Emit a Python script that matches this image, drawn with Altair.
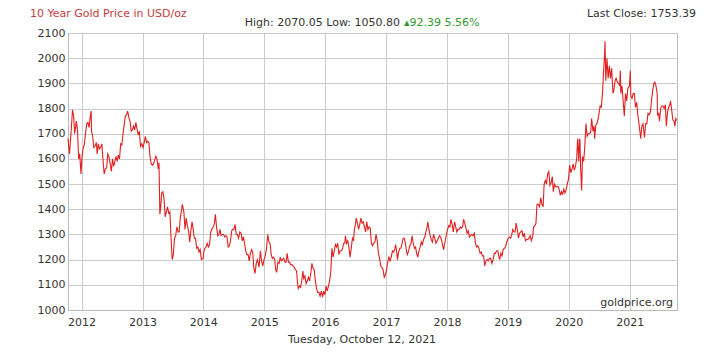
import altair as alt
import pandas as pd

# ---- data (~weekly points) ----
y2011 = [("10-12",1680),("10-21",1620),("11-01",1720),("11-08",1795),("11-15",1770),("11-21",1700),
         ("12-01",1750),("12-08",1715),("12-15",1600),("12-21",1620),("12-29",1540)]
y2012 = [("01-03",1600),("01-10",1640),("01-17",1655),("01-25",1700),("02-01",1740),("02-08",1745),
         ("02-15",1725),("02-22",1765),("02-28",1790),("03-01",1710),("03-08",1690),("03-15",1645),
         ("03-22",1650),("03-30",1665),("04-04",1620),("04-11",1660),("04-18",1640),("04-25",1645),
         ("05-02",1660),("05-09",1595),("05-16",1540),("05-23",1560),("05-31",1565),("06-06",1620),
         ("06-13",1610),("06-21",1580),("06-28",1550),("07-05",1600),("07-12",1570),("07-19",1590),
         ("07-26",1610),("08-02",1590),("08-09",1615),("08-16",1600),("08-23",1660),("08-30",1655),
         ("09-06",1700),("09-13",1735),("09-20",1770),("09-27",1775),("10-04",1790),("10-11",1765),
         ("10-18",1750),("10-25",1710),("11-01",1715),("11-08",1730),("11-15",1715),("11-22",1745),
         ("11-29",1720),("12-06",1695),("12-13",1710),("12-20",1650),("12-28",1660)]
y2013 = [("01-04",1645),("01-11",1665),("01-18",1690),("01-25",1665),("02-01",1670),("02-08",1665),
         ("02-15",1610),("02-22",1580),("03-01",1575),("03-08",1580),("03-15",1595),("03-22",1610),
         ("03-29",1600),("04-05",1560),("04-10",1585),("04-15",1380),("04-19",1400),("04-26",1465),
         ("05-03",1470),("05-10",1440),("05-17",1370),("05-24",1390),("05-31",1410),("06-07",1385),
         ("06-14",1390),("06-21",1290),("06-28",1200),("07-05",1220),("07-12",1285),("07-19",1295),
         ("07-26",1330),("08-02",1310),("08-09",1310),("08-16",1370),("08-23",1395),("08-28",1420),
         ("09-06",1390),("09-13",1320),("09-20",1365),("09-27",1335),("10-04",1315),("10-11",1270),
         ("10-18",1315),("10-25",1350),("11-01",1320),("11-08",1285),("11-15",1285),("11-22",1245),
         ("11-29",1250),("12-06",1230),("12-13",1240),("12-20",1200),("12-31",1205)]
y2014 = [("01-03",1230),("01-10",1245),("01-17",1250),("01-24",1265),("01-31",1250),("02-07",1260),
         ("02-14",1310),("02-21",1320),("02-28",1330),("03-07",1340),("03-14",1380),("03-21",1330),
         ("03-28",1295),("04-04",1300),("04-11",1320),("04-17",1295),("04-25",1300),("05-02",1300),
         ("05-09",1290),("05-16",1295),("05-23",1290),("05-30",1250),("06-06",1255),("06-13",1275),
         ("06-20",1315),("06-27",1320),("07-03",1320),("07-10",1340),("07-17",1300),("07-24",1300),
         ("07-31",1285),("08-08",1310),("08-15",1305),("08-22",1275),("08-29",1290),("09-05",1265),
         ("09-12",1235),("09-19",1220),("09-26",1220),("10-03",1195),("10-10",1225),("10-17",1240),
         ("10-24",1230),("10-31",1165),("11-07",1145),("11-14",1185),("11-21",1200),("11-28",1180),
         ("12-01",1170),("12-09",1235),("12-16",1195),("12-23",1175),("12-31",1200)]
y2015 = [("01-07",1215),("01-14",1240),("01-22",1300),("01-29",1270),("02-05",1265),("02-12",1220),
         ("02-19",1205),("02-26",1210),("03-05",1200),("03-11",1160),("03-17",1150),("03-24",1190),
         ("03-31",1185),("04-07",1210),("04-14",1195),("04-21",1200),("04-28",1205),("05-05",1190),
         ("05-12",1190),("05-19",1225),("05-26",1190),("06-02",1190),("06-09",1180),("06-16",1180),
         ("06-23",1175),("06-30",1170),("07-07",1160),("07-14",1155),("07-20",1105),("07-24",1085),
         ("07-31",1095),("08-07",1090),("08-14",1115),("08-21",1155),("08-26",1125),("09-02",1135),
         ("09-09",1105),("09-16",1115),("09-23",1130),("09-30",1115),("10-07",1145),("10-14",1185),
         ("10-21",1165),("10-28",1160),("11-04",1115),("11-11",1085),("11-18",1070),("11-25",1070),
         ("12-02",1055),("12-09",1075),("12-17",1051),("12-23",1075),("12-31",1060)]
y2016 = [("01-07",1095),("01-14",1075),("01-21",1095),("01-28",1115),("02-04",1150),("02-11",1245),
         ("02-18",1210),("02-25",1235),("03-03",1260),("03-10",1250),("03-17",1265),("03-24",1220),
         ("03-31",1235),("04-07",1235),("04-14",1240),("04-21",1265),("04-28",1265),("05-02",1295),
         ("05-09",1265),("05-16",1275),("05-23",1250),("05-30",1210),("06-06",1245),("06-13",1285),
         ("06-20",1275),("06-24",1315),("07-01",1340),("07-06",1365),("07-13",1345),("07-20",1320),
         ("07-27",1340),("08-03",1365),("08-10",1345),("08-17",1350),("08-24",1330),("08-31",1310),
         ("09-07",1350),("09-14",1320),("09-21",1330),("09-28",1325),("10-05",1265),("10-12",1255),
         ("10-19",1265),("10-26",1270),("11-02",1300),("11-09",1275),("11-16",1225),("11-23",1205),
         ("11-30",1175),("12-07",1170),("12-14",1160),("12-21",1130),("12-28",1140)]
y2017 = [("01-04",1160),("01-11",1190),("01-18",1210),("01-25",1195),("02-01",1210),("02-08",1235),
         ("02-15",1230),("02-22",1240),("02-27",1260),("03-06",1230),("03-10",1200),("03-17",1230),
         ("03-24",1245),("03-31",1245),("04-07",1265),("04-13",1285),("04-20",1285),("04-27",1265),
         ("05-04",1230),("05-09",1220),("05-16",1235),("05-23",1255),("05-31",1265),("06-06",1295),
         ("06-13",1265),("06-20",1245),("06-27",1250),("07-03",1225),("07-10",1210),("07-17",1235),
         ("07-24",1250),("07-31",1270),("08-07",1260),("08-14",1280),("08-21",1290),("08-28",1310),
         ("09-04",1330),("09-08",1350),("09-15",1320),("09-22",1295),("09-29",1280),("10-06",1270),
         ("10-13",1300),("10-20",1285),("10-27",1265),("11-03",1275),("11-10",1285),("11-17",1295),
         ("11-24",1290),("12-01",1275),("12-08",1250),("12-12",1240),("12-19",1265),("12-29",1300)]
y2018 = [("01-05",1320),("01-12",1335),("01-19",1330),("01-25",1360),("02-01",1340),("02-08",1310),
         ("02-16",1350),("02-23",1330),("03-01",1310),("03-08",1320),("03-15",1320),("03-22",1330),
         ("03-29",1325),("04-05",1330),("04-11",1360),("04-18",1345),("04-25",1325),("05-02",1305),
         ("05-09",1315),("05-16",1290),("05-23",1295),("05-30",1300),("06-06",1295),("06-14",1305),
         ("06-21",1265),("06-28",1250),("07-05",1255),("07-12",1245),("07-19",1225),("07-26",1230),
         ("08-02",1215),("08-09",1215),("08-16",1175),("08-23",1195),("08-30",1200),("09-06",1195),
         ("09-13",1205),("09-20",1205),("09-28",1185),("10-05",1200),("10-12",1225),("10-19",1225),
         ("10-26",1235),("11-02",1235),("11-09",1210),("11-13",1200),("11-20",1225),("11-27",1215),
         ("12-04",1240),("12-11",1245),("12-18",1250),("12-24",1265),("12-31",1280)]
y2019 = [("01-04",1285),("01-11",1290),("01-18",1285),("01-25",1300),("01-31",1320),("02-07",1310),
         ("02-14",1310),("02-20",1345),("02-27",1320),("03-06",1285),("03-13",1305),("03-20",1310),
         ("03-27",1315),("04-03",1290),("04-10",1305),("04-17",1275),("04-24",1280),("05-01",1280),
         ("05-08",1285),("05-15",1295),("05-22",1275),("05-30",1290),("06-05",1330),("06-12",1335),
         ("06-19",1345),("06-25",1420),("07-03",1420),("07-10",1410),("07-18",1445),("07-25",1420),
         ("08-01",1410),("08-07",1500),("08-14",1515),("08-21",1500),("08-28",1540),("09-04",1550),
         ("09-11",1495),("09-18",1505),("09-25",1530),("10-01",1470),("10-08",1500),("10-15",1490),
         ("10-22",1490),("10-29",1490),("11-05",1480),("11-12",1455),("11-19",1470),("11-26",1460),
         ("12-03",1480),("12-10",1465),("12-17",1478),("12-24",1500),("12-31",1520)]
y2020 = [("01-07",1575),("01-14",1545),("01-21",1560),("01-28",1580),("02-04",1555),("02-11",1570),
         ("02-18",1600),("02-24",1680),("03-02",1590),("03-06",1680),("03-09",1675),("03-13",1560),
         ("03-16",1520),("03-19",1475),("03-24",1610),("03-31",1590),("04-07",1650),("04-14",1740),
         ("04-21",1690),("04-28",1700),("05-05",1700),("05-12",1705),("05-18",1760),("05-26",1710),
         ("06-02",1730),("06-05",1680),("06-12",1735),("06-19",1740),("06-26",1760),("07-01",1780),
         ("07-08",1810),("07-15",1805),("07-22",1860),("07-28",1940),("08-04",2020),("08-06",2067),
         ("08-11",1910),("08-18",2000),("08-25",1920),("09-01",1970),("09-08",1920),("09-15",1960),
         ("09-23",1860),("09-28",1870),("10-05",1910),("10-12",1920),("10-19",1905),("10-26",1900),
         ("11-02",1890),("11-06",1950),("11-09",1860),("11-16",1890),("11-23",1830),("11-30",1770),
         ("12-07",1860),("12-14",1830),("12-21",1880),("12-31",1890)]
y2021 = [("01-05",1950),("01-08",1850),("01-15",1840),("01-22",1860),("01-29",1860),("02-05",1805),
         ("02-12",1825),("02-19",1775),("02-26",1740),("03-05",1700),("03-08",1680),("03-15",1730),
         ("03-22",1740),("03-31",1685),("04-07",1740),("04-14",1740),("04-21",1780),("04-28",1775),
         ("05-05",1785),("05-12",1830),("05-19",1870),("05-26",1900),("06-01",1905),("06-08",1890),
         ("06-15",1860),("06-17",1775),("06-24",1780),("06-29",1750),("07-06",1800),("07-13",1810),
         ("07-20",1810),("07-27",1800),("08-03",1815),("08-09",1730),("08-16",1785),("08-23",1805),
         ("08-30",1815),("09-03",1830),("09-10",1795),("09-17",1755),("09-24",1750),("09-29",1730),
         ("10-05",1760),("10-08",1755),("10-12",1753)]

years = {2011: y2011, 2012: y2012, 2013: y2013, 2014: y2014, 2015: y2015, 2016: y2016,
         2017: y2017, 2018: y2018, 2019: y2019, 2020: y2020, 2021: y2021}

year_ticks = ["2012", "2013", "2014", "2015", "2016", "2017", "2018", "2019", "2020", "2021"]
y_ticks = [1000, 1100, 1200, 1300, 1400, 1500, 1600, 1700, 1800, 1900, 2000, 2100]

title_text = "10 Year Gold Price in USD/oz"
last_close = "Last Close: 1753.39"
high_low = "High: 2070.05 Low: 1050.80"
change = "\u25b492.39 5.56%"
credit = "goldprice.org"
date_text = "Tuesday, October 12, 2021"

rows = []
for yr, pts in years.items():
    for md, p in pts:
        rows.append({"date": f"{yr}-{md}", "price": p})
df = pd.DataFrame(rows)

FONT = "DejaVu Sans"
W, H = 609, 277

x_enc = alt.X(
    "date:T",
    scale=alt.Scale(domain=["2011-10-12", "2021-10-12"]),
    axis=alt.Axis(
        values=[f"{y}-01-01" for y in year_ticks], format="%Y", title=None,
        grid=True, gridColor="#cccccc", tickSize=0, labelPadding=6,
        labelFont=FONT, labelFontSize=11, labelColor="#333333",
        domainColor="#bbbbbb", labelAlign="center",
    ),
)
y_enc = alt.Y(
    "price:Q",
    scale=alt.Scale(domain=[1000, 2100], nice=False, zero=False),
    axis=alt.Axis(
        values=y_ticks, format="d", title=None, grid=True, gridColor="#cccccc", tickSize=0,
        labelPadding=3, labelFont=FONT, labelFontSize=11, labelColor="#333333",
        domainColor="#bbbbbb",
    ),
)

line = alt.Chart(df).mark_line(color="#e02020", strokeWidth=1.1).encode(x=x_enc, y=y_enc)


def txt(t, x, y, color="#333333", align="left", size=11):
    return alt.Chart(pd.DataFrame({"t": [t]})).mark_text(
        font=FONT, fontSize=size, color=color, align=align, baseline="middle"
    ).encode(text="t:N", x=alt.value(x), y=alt.value(y))


texts = [
    txt(title_text, -38, -19, color="#c43c3c"),
    txt(last_close, 628, -19, align="right"),
    txt(high_low, 332, -10, align="right"),
    txt(change, 336, -10, color="#2f9a2f"),
    txt(credit, 605, 270, align="right"),
    txt(date_text, 294, 307, align="center"),
]

chart = alt.layer(line, *texts).properties(
    width=W, height=H,
    padding={"left": 60, "top": 25, "right": 34, "bottom": 38},
    autosize=alt.AutoSizeParams(type="none"),
    background="white",
).configure_view(stroke="#bbbbbb")

chart.save("out.html", embed_options={"renderer": "svg", "actions": False})
